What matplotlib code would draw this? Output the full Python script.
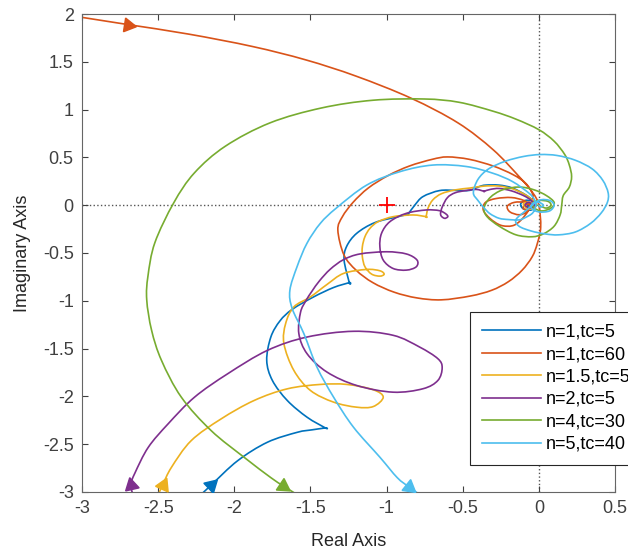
import numpy as np
import matplotlib.pyplot as plt
from matplotlib.patches import PathPatch
from matplotlib.path import Path
from matplotlib.lines import Line2D

plt.rcParams['font.family'] = ['Liberation Sans', 'DejaVu Sans']

# Nyquist curves (real, imag)
blue_x = [-2.22, -2.15, -1.978, -1.783, -1.587, -1.49, -1.402,
          -1.522, -1.652, -1.75, -1.787, -1.76, -1.70, -1.62, -1.48, -1.348, -1.245,
          -1.279, -1.262, -1.196, -1.077, -0.925, -0.859,
          -0.815, -0.761, -0.652, -0.543, -0.456, -0.391, -0.35, -0.261, -0.174,
          -0.087, -0.04, -0.02, -0.05, -0.10, -0.12, -0.09, -0.04,
          -0.02, -0.04, -0.07, -0.07, -0.04, -0.03]
blue_y = [-3.03, -2.925, -2.673, -2.48, -2.376, -2.35, -2.33,
          -2.218, -2.043, -1.833, -1.624, -1.379, -1.21, -1.09, -0.96, -0.861, -0.81,
          -0.574, -0.43, -0.294, -0.182, -0.12, -0.095,
          0.0, 0.09, 0.153, 0.155, 0.155, 0.195, 0.21, 0.21, 0.18,
          0.108, 0.05, 0.0, -0.05, -0.04, 0.01, 0.05, 0.04,
          0.0, -0.03, -0.02, 0.01, 0.02, 0.0]

orange_x = [-3.0, -2.70, -2.30, -1.88, -1.53, -1.20, -0.84, -0.53, -0.30, -0.13,
            -0.04, 0.0, 0.012, -0.01, -0.044, -0.11, -0.20, -0.31, -0.45, -0.64,
            -0.80, -0.95, -1.09, -1.20, -1.28, -1.32, -1.29, -1.22, -1.12, -0.99,
            -0.85, -0.70, -0.60, -0.457, -0.30, -0.17, -0.087, -0.04, -0.05, -0.07,
            -0.12, -0.174, -0.25, -0.32, -0.365, -0.35, -0.28, -0.18, -0.10, -0.06,
            -0.08, -0.13, -0.19, -0.207, -0.16, -0.09, -0.05, -0.07, -0.10, -0.10,
            -0.07, -0.04]
orange_y = [1.965, 1.89, 1.79, 1.66, 1.52, 1.35, 1.12, 0.86, 0.58, 0.30,
            0.13, 0.0, -0.23, -0.40, -0.54, -0.68, -0.80, -0.89, -0.95, -0.99,
            -0.97, -0.91, -0.81, -0.68, -0.52, -0.26, -0.12, 0.03, 0.18, 0.31,
            0.41, 0.48, 0.505, 0.48, 0.41, 0.32, 0.23, 0.11, 0.02, -0.06,
            -0.16, -0.215, -0.21, -0.14, -0.05, 0.03, 0.07, 0.08, 0.05, 0.0,
            -0.07, -0.10, -0.07, -0.01, 0.03, 0.03, 0.0, -0.04, -0.04, -0.01,
            0.01, 0.0]

yellow_x = [-2.50, -2.47, -2.413, -2.283, -2.087, -1.870, -1.652, -1.435, -1.261, -1.087,
            -1.022, -1.087, -1.196, -1.348, -1.50, -1.609, -1.674, -1.663, -1.609, -1.50,
            -1.392, -1.283, -1.131, -1.044, -1.016, -1.044, -1.098, -1.142, -1.159, -1.159,
            -1.142, -1.109, -1.055, -0.957, -0.827, -0.74,
            -0.728, -0.696, -0.64, -0.55, -0.45, -0.36, -0.26, -0.17, -0.09, -0.04,
            -0.02, -0.05, -0.09, -0.10, -0.06, -0.03, -0.03]
yellow_y = [-3.03, -2.925, -2.743, -2.463, -2.236, -2.043, -1.921, -1.875, -1.875, -1.931,
            -2.008, -2.106, -2.113, -2.06, -1.938, -1.728, -1.449, -1.239, -1.064, -0.959,
            -0.83, -0.714, -0.672, -0.686, -0.721, -0.742, -0.721, -0.644, -0.539, -0.434,
            -0.329, -0.242, -0.172, -0.12, -0.102, -0.12,
            -0.031, 0.056, 0.12, 0.16, 0.18, 0.20, 0.20, 0.17, 0.11, 0.05,
            0.0, -0.04, -0.02, 0.02, 0.03, 0.01, 0.0]

purple_x = [-2.665, -2.68, -2.652, -2.565, -2.435, -2.261, -2.043, -1.783, -1.522, -1.217,
            -0.957, -0.783, -0.663, -0.635, -0.663, -0.761, -0.957, -1.196, -1.391, -1.522,
            -1.576, -1.565, -1.53, -1.49, -1.44, -1.37, -1.283, -1.175, -1.0, -0.87,
            -0.80, -0.805, -0.87, -0.957, -1.022, -1.044, -1.033, -0.978, -0.87, -0.74,
            -0.653, -0.61, -0.598, -0.62, -0.645, -0.635, -0.60, -0.55, -0.48, -0.41,
            -0.36, -0.32, -0.26, -0.18, -0.10, -0.05, -0.03, -0.06, -0.09, -0.07, -0.04]
purple_y = [-3.03, -2.925, -2.80, -2.533, -2.288, -2.008, -1.763, -1.519, -1.379, -1.319,
            -1.361, -1.484, -1.606, -1.70, -1.833, -1.92, -1.956, -1.886, -1.746, -1.554,
            -1.344, -1.12, -1.0, -0.90, -0.79, -0.67, -0.57, -0.51, -0.487, -0.51,
            -0.574, -0.644, -0.679, -0.662, -0.574, -0.434, -0.294, -0.172, -0.085, -0.05,
            -0.057, -0.092, -0.12, -0.137, -0.10, -0.02, 0.08, 0.13, 0.153, 0.165,
            0.145, 0.165, 0.175, 0.15, 0.10, 0.05, 0.0, -0.03, 0.0, 0.03, 0.01]

green_x = [-1.575, -1.68, -1.76, -1.935, -2.152, -2.348, -2.478, -2.543, -2.575, -2.567,
           -2.522, -2.398, -2.262, -2.059, -1.766, -1.428, -1.09, -0.751, -0.525, -0.30,
           -0.15, 0.0, 0.10, 0.17, 0.20, 0.215, 0.20, 0.16, 0.15, 0.14,
           0.10, 0.03, -0.044, -0.15, -0.26, -0.34, -0.36, -0.32, -0.24, -0.13,
           -0.03, 0.05, 0.10, 0.08, 0.02, -0.03, -0.04, 0.0, 0.06, 0.08,
           0.05, 0.01, -0.01]
green_y = [-3.04, -2.935, -2.85, -2.638, -2.358, -2.008, -1.624, -1.309, -0.99, -0.742,
           -0.394, 0.024, 0.338, 0.617, 0.861, 1.017, 1.098, 1.111, 1.077, 0.983,
           0.90, 0.79, 0.67, 0.53, 0.42, 0.30, 0.19, 0.10, 0.0, -0.10,
           -0.22, -0.30, -0.33, -0.31, -0.22, -0.12, -0.03, 0.08, 0.16, 0.19,
           0.16, 0.10, 0.03, -0.03, -0.06, -0.03, 0.02, 0.05, 0.04, 0.0,
           -0.03, -0.01, 0.0]

lblue_x = [-0.77, -0.855, -0.93, -1.043, -1.217, -1.348, -1.457, -1.543, -1.62, -1.635,
           -1.588, -1.523, -1.435, -1.33, -1.131, -0.914, -0.696, -0.478, -0.305, -0.174,
           -0.065, -0.03, -0.02, -0.04, -0.09, -0.13, -0.20, -0.261, -0.32, -0.359,
           -0.40, -0.43, -0.40, -0.33, -0.22, -0.10, 0.01, 0.12, 0.24, 0.35,
           0.42, 0.455, 0.45, 0.41, 0.34, 0.24, 0.13, 0.04, -0.05, -0.13,
           -0.15, -0.08, 0.0, 0.07, 0.10, 0.07, 0.0, -0.05, -0.04, 0.0,
           0.03, 0.01, 0.0]
lblue_y = [-3.04, -2.945, -2.85, -2.638, -2.323, -2.008, -1.694, -1.344, -1.08, -0.89,
           -0.644, -0.399, -0.19, -0.03, 0.21, 0.35, 0.42, 0.405, 0.336, 0.248,
           0.126, 0.06, 0.0, -0.08, -0.13, -0.154, -0.15, -0.137, -0.09, -0.03,
           0.05, 0.13, 0.27, 0.38, 0.46, 0.51, 0.53, 0.52, 0.47, 0.38,
           0.26, 0.13, 0.03, -0.08, -0.19, -0.28, -0.31, -0.30, -0.27, -0.22,
           -0.15, -0.05, 0.05, 0.05, 0.0, -0.06, -0.07, -0.03, 0.02, 0.03,
           0.0, -0.02, 0.0]

labels = ['n=1,tc=5', 'n=1,tc=60', 'n=1.5,tc=5', 'n=2,tc=5', 'n=4,tc=30', 'n=5,tc=40']
colors = ['#0072BD', '#D95319', '#EDB120', '#7E2F8E', '#77AC30', '#4DBEEE']
curves = [(blue_x, blue_y), (orange_x, orange_y), (yellow_x, yellow_y),
          (purple_x, purple_y), (green_x, green_y), (lblue_x, lblue_y)]
# sharp corners (indices) and arrow (from index, to index) on each curve
cusps = [[6, 16, 22], [], [35], [50], [], []]
arrows = [(0, 1), (0, 1), (0, 1), (0, 1), (2, 1), (2, 1)]


def smooth_path(xs, ys, corners):
    # Catmull-Rom through the traced points, drawn as cubic Bezier segments
    pts = []
    for i, p in enumerate(zip(xs, ys)):
        pts.append(p)
        if i in corners:
            pts.append(p)
    pts = np.array(pts, float)
    ext = np.vstack([pts[0], pts, pts[-1]])
    verts = [pts[0]]
    codes = [Path.MOVETO]
    for i in range(1, len(ext) - 2):
        p0, p1, p2, p3 = ext[i - 1], ext[i], ext[i + 1], ext[i + 2]
        verts += [p1 + (p2 - p0) / 6, p2 - (p3 - p1) / 6, p2]
        codes += [Path.CURVE4] * 3
    return Path(verts, codes)


fig = plt.figure(figsize=(6.28, 5.5), dpi=100)
ax = fig.add_axes([0.1306, 0.1055, 0.8487, 0.869])
ax.set_xlim(-3, 0.5)
ax.set_ylim(-3, 2)

ax.axhline(0, color='#555555', ls=':', lw=1.0, zorder=1)
ax.axvline(0, color='#555555', ls=':', lw=1.0, zorder=1)

handles = []
for (cx, cy), lab, col, cn, (a, b) in zip(curves, labels, colors, cusps, arrows):
    ax.add_patch(PathPatch(smooth_path(cx, cy, cn), fill=False, edgecolor=col,
                           lw=1.2, zorder=2, capstyle='round', joinstyle='round'))
    # direction arrow as a rotated triangle marker
    pa = ax.transData.transform((cx[a], cy[a]))
    pb = ax.transData.transform((cx[b], cy[b]))
    ang = np.degrees(np.arctan2(pb[1] - pa[1], pb[0] - pa[0])) - 90
    ax.plot([cx[b]], [cy[b]], marker=(3, 0, ang), ms=11.5, color=col, mec=col,
            ls='none', zorder=3)
    handles.append(Line2D([], [], color=col, lw=1.2, label=lab))

ax.plot([-1], [0], marker='+', color='red', ms=11, mew=1.3, ls='none', zorder=4)

ax.set_xticks(np.arange(-3, 0.51, 0.5))
ax.set_yticks(np.arange(-3, 2.01, 0.5))
ax.set_xticklabels(['-3', '-2.5', '-2', '-1.5', '-1', '-0.5', '0', '0.5'])
ax.set_yticklabels(['-3', '-2.5', '-2', '-1.5', '-1', '-0.5', '0', '0.5', '1', '1.5', '2'])
ax.tick_params(direction='in', top=True, right=True, length=4, width=0.8,
               labelsize=13, colors='#404040', pad=6)
for s in ax.spines.values():
    s.set_color('#666666')
    s.set_linewidth(0.8)

ax.set_xlabel('Real Axis', fontsize=13, color='#262626', labelpad=11)
ax.set_ylabel('Imaginary Axis', fontsize=13, color='#262626')
ax.yaxis.set_label_coords(-0.096, 0.5)

leg = ax.legend(handles=handles, loc='upper left',
                bbox_to_anchor=(470 / 628, 1 - 312 / 550),
                bbox_transform=fig.transFigure, borderaxespad=0, fontsize=13,
                frameon=True, fancybox=False, framealpha=1, edgecolor='#262626',
                handlelength=3.3, handletextpad=0.25, labelspacing=0.3,
                borderpad=0.65)
leg.get_frame().set_linewidth(0.8)

fig.savefig('out.png', dpi=100)
